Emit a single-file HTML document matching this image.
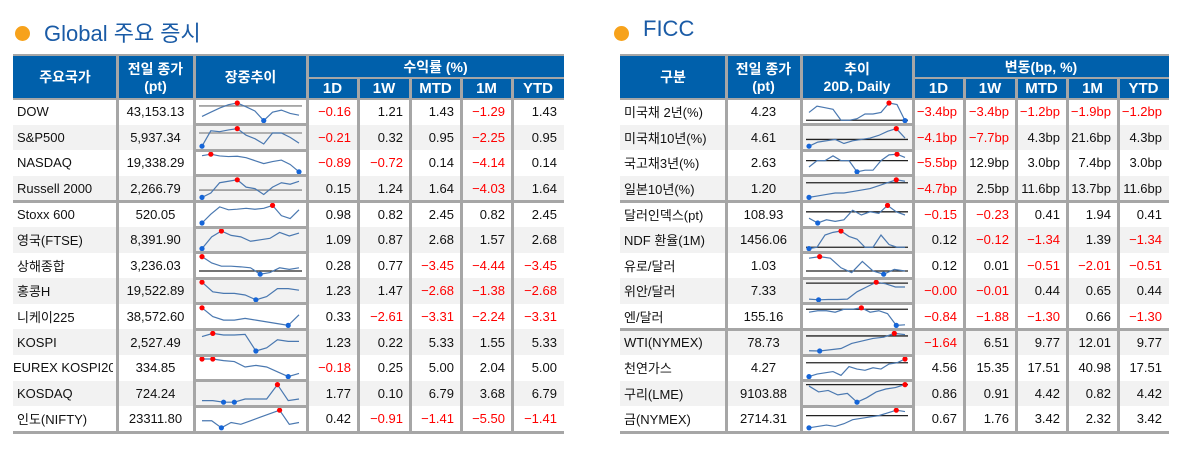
<!DOCTYPE html>
<html><head><meta charset="utf-8">
<style>
body{margin:0;width:1190px;height:458px;background:#fff;position:relative;overflow:hidden;font-family:"Liberation Sans","Noto Sans CJK KR",sans-serif;}
.abs{position:absolute;box-sizing:border-box;}
.title{position:absolute;font-size:22px;color:#1a5ba6;top:16px;white-space:nowrap;}
.dot{position:absolute;width:15px;height:15px;border-radius:50%;background:#f7a21b;top:26px;}
.hd{position:absolute;background:#0060ab;color:#fff;font-weight:bold;font-size:14px;display:flex;align-items:center;justify-content:center;text-align:center;line-height:17px;box-sizing:border-box;}
.cell{position:absolute;font-size:13px;color:#111;white-space:nowrap;overflow:hidden;display:flex;align-items:center;box-sizing:border-box;}
.neg{color:#f00;}
.ln{position:absolute;background:#a6a6a6;}
</style></head><body>
<div class="dot" style="left:15px"></div>
<div class="title" style="left:44px">Global 주요 증시</div>
<div class="dot" style="left:614px"></div>
<div class="title" style="left:643px">FICC</div>
<div id="root"></div>
<script>
const leftNames=["DOW","S&P500","NASDAQ","Russell 2000","Stoxx 600","영국(FTSE)","상해종합","홍콩H","니케이225","KOSPI","EUREX KOSPI200","KOSDAQ","인도(NIFTY)"];
const leftPrice=["43,153.13","5,937.34","19,338.29","2,266.79","520.05","8,391.90","3,236.03","19,522.89","38,572.60","2,527.49","334.85","724.24","23311.80"];
const left1D=["−0.16","−0.21","−0.89","0.15","0.98","1.09","0.28","1.23","0.33","1.23","−0.18","1.77","0.42"];
const left1W=["1.21","0.32","−0.72","1.24","0.82","0.87","0.77","1.47","−2.61","0.22","0.25","0.10","−0.91"];
const leftMTD=["1.43","0.95","0.14","1.64","2.45","2.68","−3.45","−2.68","−3.31","5.33","5.00","6.79","−1.41"];
const left1M=["−1.29","−2.25","−4.14","−4.03","0.82","1.57","−4.44","−1.38","−2.24","1.55","2.04","3.68","−5.50"];
const leftYTD=["1.43","0.95","0.14","1.64","2.45","2.68","−3.45","−2.68","−3.31","5.33","5.00","6.79","−1.41"];
const leftSpark=[[35,45,55,63,67,58,48,25,45,50,42,38],[25,60,58,62,65,50,42,30,55,55,45,32],[75,80,74,72,73,68,58,48,55,60,45,20],[15,30,65,70,75,50,45,25,50,65,60,70],[15,45,70,60,62,65,62,65,75,40,30,60],[15,55,75,60,55,40,45,50,70,58,68],[80,60,50,50,48,45,25,30,45,40,45],[80,50,45,45,40,25,35,60,60,55],[80,55,45,45,50,45,40,35,30,60],[65,75,70,70,72,20,30,55,50,50],[80,80,75,72,55,60,55,40,25,35],[35,35,30,30,40,40,40,85,35,40],[45,45,25,40,35,45,55,65,75,35,40]];
const leftRef=[60,55,null,40,null,null,35,null,null,null,null,null,null];
const rightNames=["미국채 2년(%)","미국채10년(%)","국고채3년(%)","일본10년(%)","달러인덱스(pt)","NDF 환율(1M)","유로/달러","위안/달러","엔/달러","WTI(NYMEX)","천연가스","구리(LME)","금(NYMEX)"];
const rightPrice=["4.23","4.61","2.63","1.20","108.93","1456.06","1.03","7.33","155.16","78.73","4.27","9103.88","2714.31"];
const right1D=["−3.4bp","−4.1bp","−5.5bp","−4.7bp","−0.15","0.12","0.12","−0.00","−0.84","−1.64","4.56","0.86","0.67"];
const right1W=["−3.4bp","−7.7bp","12.9bp","2.5bp","−0.23","−0.12","0.01","−0.01","−1.88","6.51","15.35","0.91","1.76"];
const rightMTD=["−1.2bp","4.3bp","3.0bp","11.6bp","0.41","−1.34","−0.51","0.44","−1.30","9.77","17.51","4.42","3.42"];
const right1M=["−1.9bp","21.6bp","7.4bp","13.7bp","1.94","1.39","−2.01","0.65","0.66","12.01","40.98","0.82","2.32"];
const rightYTD=["−1.2bp","4.3bp","3.0bp","11.6bp","0.41","−1.34","−0.51","0.44","−1.30","9.77","17.51","4.42","3.42"];
const rightSpark=[[50,70,65,60,25,25,30,45,45,50,80,75,24],[15,30,35,40,25,35,40,45,55,70,80,45],[40,60,60,75,60,60,25,30,30,60,78,80,70],[20,25,30,35,35,40,45,50,60,70,80,75],[40,25,35,30,35,65,50,60,55,80,60,50],[15,20,65,75,80,60,50,20,20,65,30,20,20],[70,75,70,40,25,60,30,20,35,30],[32,30,31,31,32,55,70,85,80,70,70],[60,65,65,60,70,70,75,60,65,55,15,17],[21,20,25,30,50,60,70,75,90,85],[20,30,35,40,25,60,50,45,55,50,70,75,90],[80,60,65,50,55,25,40,60,70,75,85],[25,30,35,30,40,55,60,65,70,80,90,85]];
const rightRef=[25,40,60,70,60,20,30,82,70,80,75,85,70];

const root=document.getElementById('root');
const Y0=56,YM=78,YH=99,RH=25.6,NR=13;
function mk(cls,x,y,w,h,html){const d=document.createElement('div');d.className=cls;d.style.left=x+'px';d.style.top=y+'px';d.style.width=w+'px';d.style.height=h+'px';if(html!=null)d.innerHTML=html;root.appendChild(d);return d;}
function buildTable(prefix,ex,heads,names,price,cols,spark,refs,groups,topLabel){
  const bottom=YH+NR*RH;
  for(let i=0;i<NR;i++){if(i%2==1){const b=mk('abs',ex[0],YH+i*RH,ex[8]-ex[0],RH);b.style.background='#f2f2f2';

}}
  const h1=mk('hd',ex[0],Y0,ex[1]-ex[0],YH-Y0,heads[0]);


  const h2=mk('hd',ex[1],Y0,ex[2]-ex[1],YH-Y0,heads[1]);


  const h3=mk('hd',ex[2],Y0,ex[3]-ex[2],YH-Y0,heads[2]);


  const h4=mk('hd',ex[3],Y0,ex[8]-ex[3],YM-Y0,topLabel);


  const sub=["1D","1W","MTD","1M","YTD"];
  for(let c=0;c<5;c++){const h=mk('hd',ex[3+c],YM,ex[4+c]-ex[3+c],YH-YM,sub[c]);h.style.fontSize='15px';

}
  for(let i=0;i<NR;i++){const y=YH+i*RH;
    const n=mk('cell',ex[0]+(names[i].length>12?0:4),y,ex[1]-ex[0]-4,RH,names[i]);


    const p=mk('cell',ex[1],y,ex[2]-ex[1],RH,price[i]);p.style.justifyContent='center';


    for(let c=0;c<5;c++){const v=cols[c][i];const d=mk('cell'+(v.startsWith('−')?' neg':''),ex[3+c],y,ex[4+c]-ex[3+c]-7,RH,v);d.style.justifyContent='flex-end';

}
    const vals=spark[i]||[];if(!vals.length)continue;
    const sx=ex[2]+8,sw=ex[3]-ex[2]-16,top=y+4,sh=RH-8;
    const mn=Math.min(...vals),mx=Math.max(...vals);
    const lo=Math.min(mn,refs[i]==null?mn:refs[i]),hi=Math.max(mx,refs[i]==null?mx:refs[i]);
    const fx=k=>sx+k*sw/(vals.length-1),fy=v=>top+sh-(v-lo)/(hi-lo||1)*sh;
    const svgNS='http://www.w3.org/2000/svg';
    const svg=document.createElementNS(svgNS,'svg');svg.setAttribute('width',1190);svg.setAttribute('height',458);svg.style.position='absolute';svg.style.left='0';svg.style.top='0';
    
    
    if(refs[i]!=null){const l=document.createElementNS(svgNS,'line');l.setAttribute('x1',sx-3);l.setAttribute('x2',sx+sw+3);l.setAttribute('y1',fy(refs[i]));l.setAttribute('y2',fy(refs[i]));l.setAttribute('stroke',prefix=='left'&&i!=6?'#888':'#222');l.setAttribute('stroke-width',1.3);


svg.appendChild(l);}
    const pl=document.createElementNS(svgNS,'polyline');pl.setAttribute('points',vals.map((v,k)=>fx(k)+','+fy(v)).join(' '));pl.setAttribute('fill','none');pl.setAttribute('stroke','#4a78b0');pl.setAttribute('stroke-width',1.2);


svg.appendChild(pl);
    vals.forEach((v,k)=>{if(v===mx||v===mn){const c=document.createElementNS(svgNS,'circle');c.setAttribute('cx',fx(k));c.setAttribute('cy',fy(v));c.setAttribute('r',2.6);c.setAttribute('fill',v===mx?'#f00':'#1565d8');


svg.appendChild(c);}});
    root.appendChild(svg);
  }
  for(let c=1;c<8;c++){const ys=c>=4?YM:Y0;const l=mk('ln',ex[c]-1.5,ys,3,bottom-ys);

}
  const hl=mk('ln',ex[3],YM-1,ex[8]-ex[3],2);


  const t=mk('ln',ex[0],Y0-2,ex[8]-ex[0],2);


  const hb=mk('ln',ex[0],YH-1,ex[8]-ex[0],2);


  for(let i=1;i<NR;i++){const s=mk('ln',ex[2],YH+i*RH-1.5,ex[3]-ex[2],3);

}
  groups.forEach(g=>{const s=mk('ln',ex[0],YH+g*RH-1.5,ex[8]-ex[0],3);

});
  const b=mk('ln',ex[0],bottom-1,ex[8]-ex[0],3);


}
buildTable('left',[13,117,194,307,358,410,461,512,564],["주요국가","전일 종가<br>(pt)","장중추이"],leftNames,leftPrice,[left1D,left1W,leftMTD,left1M,leftYTD],leftSpark,leftRef,[4],"수익률 (%)");
buildTable('right',[620,726,801,913,964,1016,1067,1118,1169],["구분","전일 종가<br>(pt)","추이<br>20D, Daily"],rightNames,rightPrice,[right1D,right1W,rightMTD,right1M,rightYTD],rightSpark,rightRef,[4,9],"변동(bp, %)");
</script>
</body></html>
